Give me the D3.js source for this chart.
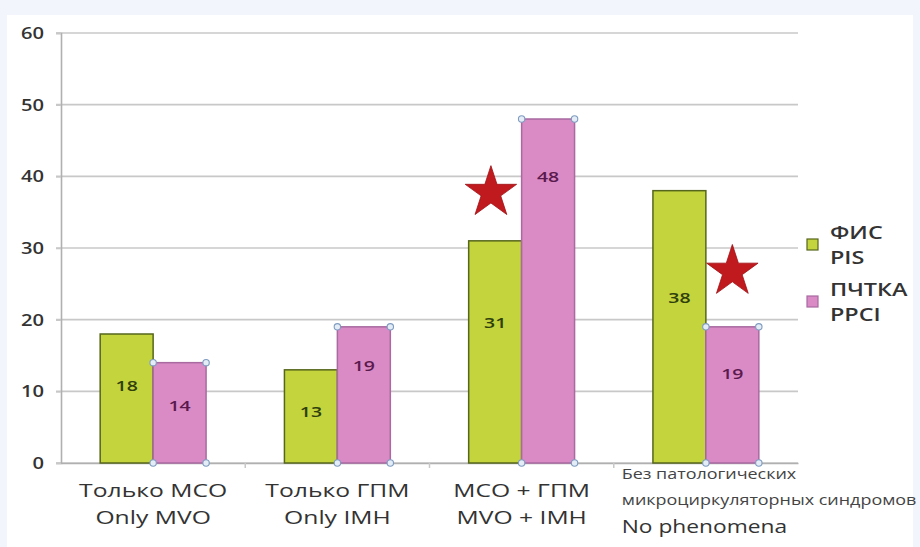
<!DOCTYPE html>
<html>
<head>
<meta charset="utf-8">
<script src="https://cdn.jsdelivr.net/npm/d3@7"></script>
<style>
  html, body { margin: 0; padding: 0; background: #f2f5fb; }
  svg { display: block; }
  text { font-family: "Open Sans", "Noto Sans", sans-serif; }
</style>
</head>
<body>
<svg id="chart" width="920" height="547"></svg>
<script>
// Groups along the x axis (two text lines each)
const categories = ["g1", "g2", "g3", "g4"];
const categoryLines = [
  ["Только МСО", "Only MVO"],
  ["Только ГПМ", "Only IMH"],
  ["МСО + ГПМ", "MVO + IMH"],
  ["Без патологических", "микроциркуляторных синдромов", "No phenomena"]
];
const seriesNames = [["ФИС", "PIS"], ["ПЧТКА", "PPCI"]];
const pisValues = [18, 13, 31, 38];
const ppciValues = [14, 19, 48, 19];
// Height (in axis units) at which each value label sits inside its bar
const pisLabelAt = [10.9, 7.3, 19.7, 23.2];
const ppciLabelAt = [8.1, 13.7, 40.0, 12.6];
// Groups with a significant difference, marked by a star next to the pair
const starAt = [null, null, 38, 27];
const yTicks = [0, 10, 20, 30, 40, 50, 60];

const svg = d3.select("#chart");
const margin = { left: 61, right: 122, top: 33, bottom: 84 };
const W = 920, H = 547;
const WIDEN = 1.3; // lettering is drawn horizontally widened

// text helper: places a string at (x, y) with widened glyphs
function label(parent, x, y, str, o) {
  return parent.append("text")
    .attr("transform", `translate(${x},${y}) scale(${WIDEN},1)`)
    .attr("text-anchor", o.anchor || "start")
    .attr("dominant-baseline", o.baseline || "auto")
    .attr("font-size", o.size)
    .attr("font-weight", o.weight || 400)
    .attr("fill", o.fill || "#333")
    .text(str);
}

// white panel
svg.append("rect").attr("x", 7).attr("y", 15).attr("width", 906).attr("height", 532).attr("fill", "#ffffff");

const x0 = d3.scaleBand().domain(categories).range([margin.left, W - margin.right]).paddingInner(0).paddingOuter(0);
const x1 = d3.scaleBand().domain([0, 1]).range([0, x0.bandwidth()]).paddingInner(0).paddingOuter(0.74);
const y = d3.scaleLinear().domain([0, 60]).range([H - margin.bottom, margin.top]);

// gridlines
svg.append("g").selectAll("line").data(yTicks).join("line")
  .attr("x1", margin.left - 5).attr("x2", W - margin.right)
  .attr("y1", d => y(d)).attr("y2", d => y(d))
  .attr("stroke", "#c8c8c8").attr("stroke-width", 1.6);

// y axis (line from d3, labels widened)
const yAxis = svg.append("g").attr("transform", `translate(${margin.left},0)`)
  .call(d3.axisLeft(y).tickValues(yTicks).tickSize(5).tickFormat(""));
yAxis.select(".domain").attr("stroke", "#b0b0b0").attr("stroke-width", 1.6);
yAxis.selectAll(".tick line").attr("stroke", "#c8c8c8").attr("stroke-width", 1.6);
const yLabels = svg.append("g");
yTicks.forEach(t => label(yLabels, margin.left - 17, y(t), t, { anchor: "end", baseline: "central", size: 15.5, weight: 600, fill: "#333" }));

// x axis baseline and group separators
const xAxis = svg.append("g").attr("transform", `translate(0,${y(0)})`)
  .call(d3.axisBottom(x0).tickValues([]).tickSizeOuter(0));
xAxis.select(".domain").attr("stroke", "#b0b0b0").attr("stroke-width", 1.6);
svg.append("g").selectAll("line").data(categories.slice(1)).join("line")
  .attr("x1", d => x0(d)).attr("x2", d => x0(d))
  .attr("y1", y(0)).attr("y2", y(0) + 5)
  .attr("stroke", "#c8c8c8").attr("stroke-width", 1.5);

const series = [
  { values: pisValues, labelAt: pisLabelAt, fill: "#c3d43c", stroke: "#56661c", text: "#2f400c" },
  { values: ppciValues, labelAt: ppciLabelAt, fill: "#da8bc6", stroke: "#a86aa0", text: "#5a1a4e" }
];

series.forEach((s, si) => {
  const g = svg.append("g");
  g.selectAll("rect").data(s.values).join("rect")
    .attr("x", (d, i) => x0(categories[i]) + x1(si))
    .attr("y", d => y(d))
    .attr("width", x1.bandwidth())
    .attr("height", d => y(0) - y(d))
    .attr("fill", s.fill).attr("stroke", s.stroke).attr("stroke-width", 1.5);
  s.values.forEach((v, i) => {
    label(g, x0(categories[i]) + x1(si) + x1.bandwidth() / 2, y(s.labelAt[i]), v,
      { anchor: "middle", baseline: "central", size: 15, weight: 600, fill: s.text });
  });
});

// handle dots on the corners of the second series
const handles = [];
ppciValues.forEach((v, i) => {
  const xl = x0(categories[i]) + x1(1), xr = xl + x1.bandwidth();
  [[xl, y(v)], [xr, y(v)], [xl, y(0)], [xr, y(0)]].forEach(p => handles.push(p));
});
svg.append("g").selectAll("circle").data(handles).join("circle")
  .attr("cx", d => d[0]).attr("cy", d => d[1]).attr("r", 3.2)
  .attr("fill", "#e4ecf6").attr("stroke", "#7f9cc0").attr("stroke-width", 1.1);

// significance stars
const star = d3.symbol().type(d3.symbolStar).size(820);
svg.append("g").selectAll("path").data(starAt.map((v, i) => ({ v, i })).filter(d => d.v !== null)).join("path")
  .attr("d", star)
  .attr("transform", d => {
    const cx = d.i === 2 ? x0(categories[d.i]) + x1(0) + x1.bandwidth() * 0.42 : x0(categories[d.i]) + x1(1) + x1.bandwidth() * 0.5;
    return `translate(${cx},${y(d.v) + 2})`;
  })
  .attr("fill", "#c01a1e").attr("stroke", "#a01014").attr("stroke-width", 0.8);

// category labels
const cats = svg.append("g");
categoryLines.forEach((lines, i) => {
  const cx = x0(categories[i]) + x0.bandwidth() / 2;
  if (lines.length === 2) {
    lines.forEach((t, k) => label(cats, cx, y(0) + 34 + k * 27, t, { anchor: "middle", size: 19, fill: "#333" }));
  } else {
    const lx = x0(categories[i]) + 8;
    label(cats, lx, y(0) + 16, lines[0], { size: 13.8, fill: "#444" });
    label(cats, lx, y(0) + 42, lines[1], { size: 13.8, fill: "#444" });
    label(cats, lx, y(0) + 70, lines[2], { size: 17.5, fill: "#333" });
  }
});

// legend
const legend = svg.append("g");
const legendTop = [233, 290];
seriesNames.forEach((names, i) => {
  legend.append("rect").attr("x", 807).attr("y", legendTop[i] + 6).attr("width", 11).attr("height", 11)
    .attr("fill", series[i].fill).attr("stroke", series[i].stroke).attr("stroke-width", 1.2);
  names.forEach((t, k) => label(legend, 830, legendTop[i] + 6 + k * 25, t, { size: 18, weight: 600, fill: "#333" }));
});
</script>
</body>
</html>
